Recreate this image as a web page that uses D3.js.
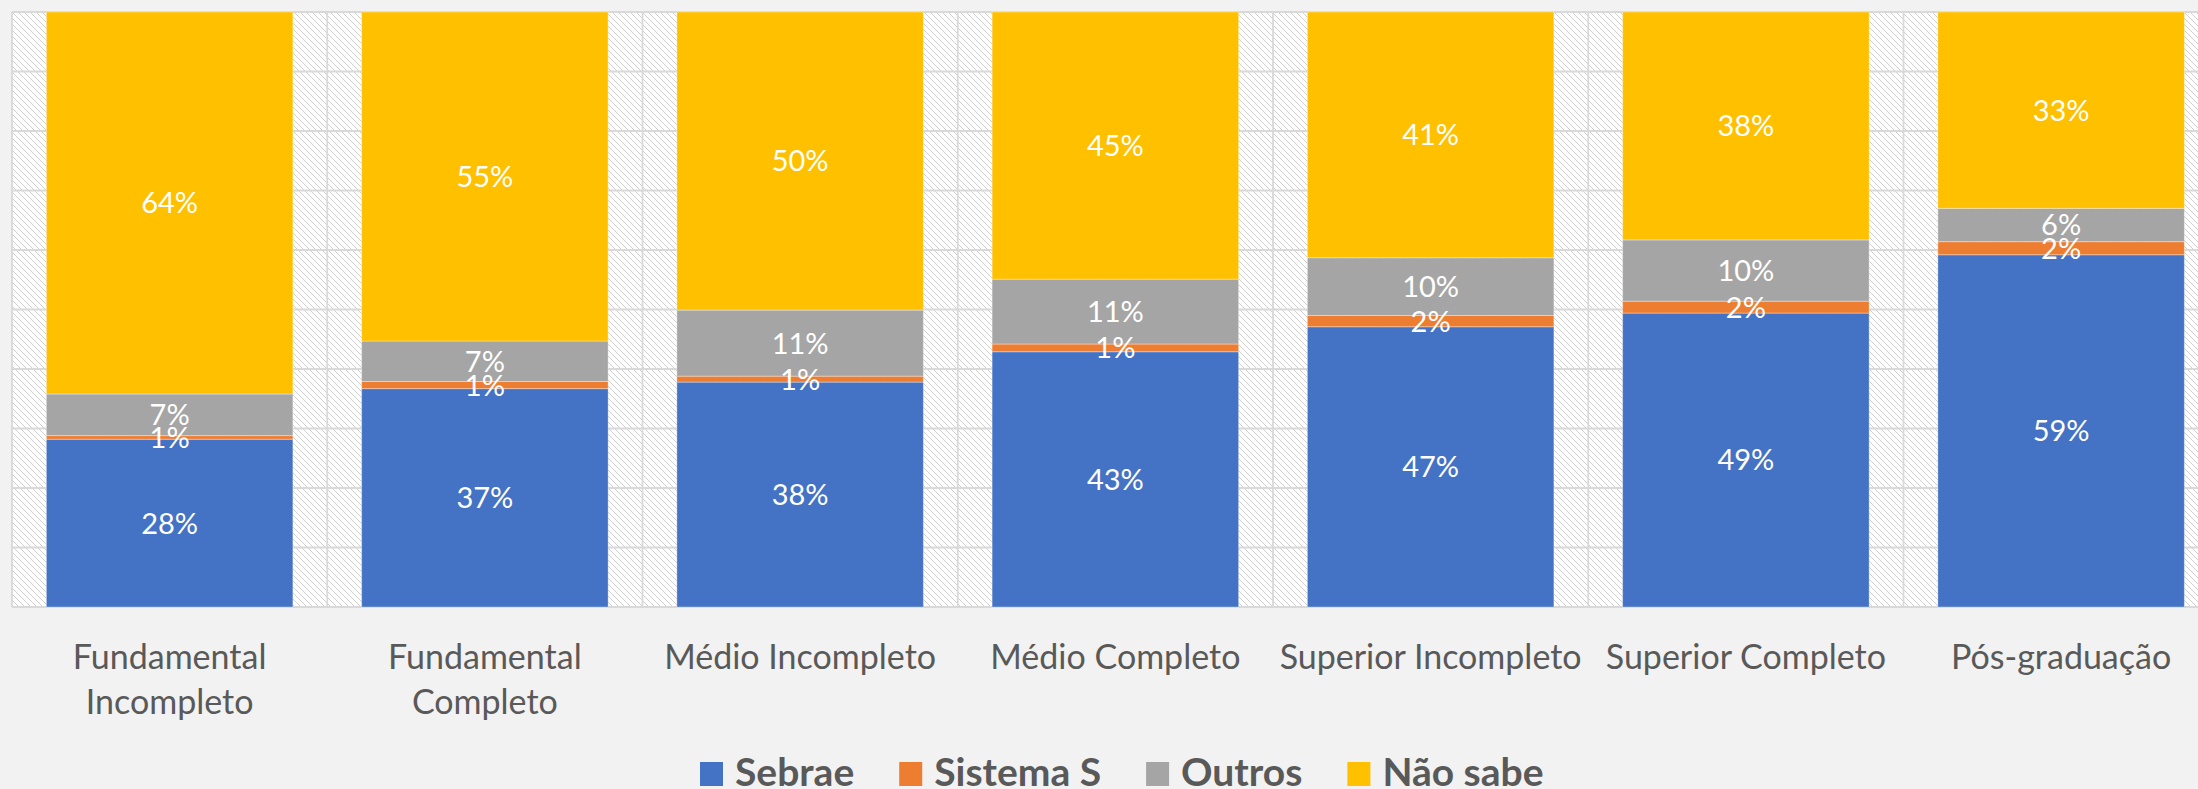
<!DOCTYPE html>
<html>
<head>
<meta charset="utf-8">
<script src="https://cdn.jsdelivr.net/npm/d3@7"></script>
<style>
  html, body { margin: 0; padding: 0; background: #f2f2f2; }
  svg { display: block; }
</style>
</head>
<body>
<svg id="chart" width="2198" height="789"></svg>
<script>
// ---- data ----
const categories = ["Fundamental Incompleto", "Fundamental Completo", "Médio Incompleto", "Médio Completo", "Superior Incompleto", "Superior Completo", "Pós-graduação"];
const categoryLines = [["Fundamental", "Incompleto"], ["Fundamental", "Completo"], ["Médio Incompleto"], ["Médio Completo"], ["Superior Incompleto"], ["Superior Completo"], ["Pós-graduação"]];
const seriesNames = ["Sebrae", "Sistema S", "Outros", "Não sabe"];
const sebrae   = [28.2, 36.7, 37.8, 42.9, 47.1, 49.4, 59.2];
const sistemaS = [0.6, 1.2, 1.0, 1.3, 1.9, 2.0, 2.2];
const outros   = [7.0, 6.8, 11.1, 10.9, 9.7, 10.3, 5.6];
const naoSabe  = [64.2, 55.3, 50.1, 44.9, 41.3, 38.3, 33.0];
const yTicks = [0, 10, 20, 30, 40, 50, 60, 70, 80, 90, 100];
const colors = ["#4472c4", "#ed7d31", "#a5a5a5", "#ffc000"];

// ---- layout ----
const svg = d3.select("#chart");
const plot = { left: 12, top: 12, bottom: 607, step: 315.25 };
const seriesValues = [sebrae, sistemaS, outros, naoSabe];
const rows = categories.map((c, i) => {
  const r = { category: c };
  seriesNames.forEach((s, k) => r[s] = seriesValues[k][i]);
  return r;
});

const x = d3.scaleBand()
  .domain(categories)
  .range([plot.left, plot.left + plot.step * categories.length])
  .paddingInner(0.218)
  .paddingOuter(0.109);
const y = d3.scaleLinear().domain([0, 100]).range([plot.bottom, plot.top]);

// hatch pattern
const defs = svg.append("defs");
const pat = defs.append("pattern")
  .attr("id", "hatch").attr("patternUnits", "userSpaceOnUse")
  .attr("width", 6).attr("height", 6);
pat.append("rect").attr("width", 6).attr("height", 6).attr("fill", "#ffffff");
for (let i = 0; i < 6; i++) {
  pat.append("rect").attr("x", i).attr("y", i).attr("width", 1).attr("height", 1)
    .attr("fill", "#cfcfcf").attr("shape-rendering", "crispEdges");
}

const plotRight = plot.left + plot.step * categories.length;
svg.append("rect")
  .attr("x", plot.left).attr("y", plot.top)
  .attr("width", plotRight - plot.left).attr("height", plot.bottom - plot.top)
  .attr("fill", "url(#hatch)");

// gridlines
const grid = svg.append("g").attr("stroke", "#d9d9d9").attr("stroke-width", 1.8);
grid.selectAll("line.h").data(yTicks).join("line").attr("class", "h")
  .attr("x1", plot.left).attr("x2", plotRight)
  .attr("y1", d => y(d)).attr("y2", d => y(d));
const bounds = d3.range(categories.length + 1).map(i => plot.left + i * x.step());
grid.selectAll("line.v").data(bounds).join("line").attr("class", "v")
  .attr("x1", d => d).attr("x2", d => d)
  .attr("y1", plot.top).attr("y2", plot.bottom);

// stacked bars
const stack = d3.stack().keys(seriesNames);
const stacked = stack(rows);
const layers = svg.append("g").selectAll("g.layer").data(stacked).join("g")
  .attr("class", "layer").attr("fill", (d, i) => colors[i]);
layers.selectAll("rect").data(d => d).join("rect")
  .attr("x", d => x(d.data.category))
  .attr("width", x.bandwidth())
  .attr("y", d => y(d[1]))
  .attr("height", d => y(d[0]) - y(d[1]))
  .attr("stroke", "#ffffff").attr("stroke-opacity", 0.35).attr("stroke-width", 1);

// data labels
const fmt = v => Math.round(v) + "%";
const labelFs = 29;
const labels = svg.append("g")
  .attr("font-family", "Lato, 'Open Sans', sans-serif")
  .attr("font-size", labelFs).attr("fill", "#ffffff").attr("text-anchor", "middle");
stacked.forEach(layer => {
  layer.forEach(d => {
    const cy = (y(d[0]) + y(d[1])) / 2;
    labels.append("text")
      .attr("x", x(d.data.category) + x.bandwidth() / 2)
      .attr("y", cy + labelFs * 0.36)
      .text(fmt(d[1] - d[0]));
  });
});

// x axis labels
const xl = svg.append("g")
  .attr("font-family", "Lato, 'Open Sans', sans-serif")
  .attr("font-size", 34).attr("fill", "#595959").attr("text-anchor", "middle");
categories.forEach((c, i) => {
  const t = xl.append("text")
    .attr("x", x(c) + x.bandwidth() / 2)
    .attr("y", 669);
  categoryLines[i].forEach((line, j) => {
    t.append("tspan").attr("x", x(c) + x.bandwidth() / 2).attr("y", 669 + j * 45).text(line);
  });
});

// legend
const lg = svg.append("g")
  .attr("font-family", "Lato, 'Open Sans', sans-serif")
  .attr("font-size", 39).attr("font-weight", "bold").attr("fill", "#595959");
let lx = 700;
seriesNames.forEach((s, i) => {
  lg.append("rect").attr("x", lx).attr("y", 762).attr("width", 23).attr("height", 24).attr("fill", colors[i]);
  const t = lg.append("text").attr("x", lx + 35).attr("y", 786).text(s);
  const w = t.node().getComputedTextLength();
  lx += 35 + w + 45;
});
</script>
</body>
</html>
